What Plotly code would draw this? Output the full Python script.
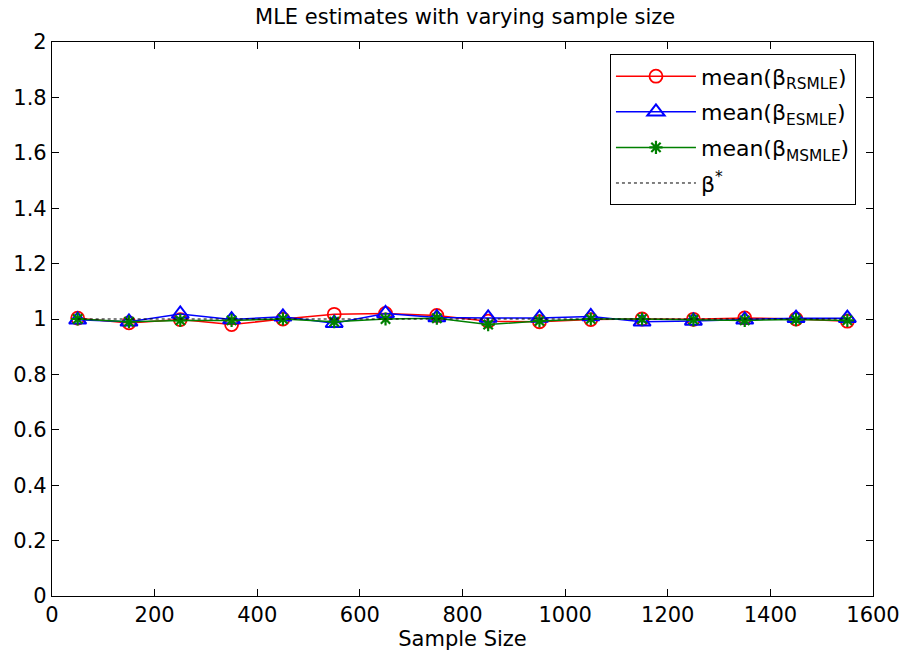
import plotly.graph_objects as go

sample_size = [50, 150, 250, 350, 450, 550, 650, 750, 850, 950, 1050, 1150, 1250, 1350, 1450, 1550]
beta_rsmle = [1.003, 0.986, 0.998, 0.980, 1.000, 1.017, 1.020, 1.013, 0.992, 0.990, 0.998, 1.000, 0.999, 1.004, 1.000, 0.992]
beta_esmle = [0.997, 0.990, 1.018, 0.998, 1.008, 0.985, 1.020, 1.005, 1.004, 1.004, 1.009, 0.990, 0.993, 0.997, 1.003, 1.003]
beta_msmle = [1.000, 0.990, 0.995, 0.995, 1.000, 0.990, 1.000, 1.003, 0.980, 0.993, 1.000, 1.000, 0.997, 0.995, 0.998, 0.995]
beta_true = [1.0] * len(sample_size)

font = "DejaVu Sans, sans-serif"

fig = go.Figure()
fig.add_trace(go.Scatter(
    x=sample_size, y=beta_rsmle, mode="lines+markers",
    name="mean(β<sub>RSMLE</sub>)", legendgroup="r",
    line=dict(color="#ff0000", width=1.5),
    marker=dict(symbol="circle-open", size=13, color="#ff0000", line=dict(width=1.8)),
))
fig.add_trace(go.Scatter(
    x=sample_size, y=beta_esmle, mode="lines+markers",
    name="mean(β<sub>ESMLE</sub>)", legendgroup="e",
    line=dict(color="#0000ff", width=1.5),
    marker=dict(symbol="triangle-up-open", size=15, color="#0000ff", line=dict(width=2)),
))
fig.add_trace(go.Scatter(
    x=sample_size, y=beta_msmle, mode="lines+markers",
    name="mean(β<sub>MSMLE</sub>)", legendgroup="m",
    line=dict(color="#008000", width=1.5),
    marker=dict(symbol="asterisk-open", size=11, color="#008000", line=dict(width=2.2, color="#008000")),
))
fig.add_trace(go.Scatter(
    x=sample_size, y=beta_true, mode="lines",
    name="β<sup>*</sup>", legendgroup="t",
    line=dict(color="black", width=1, dash="dot"),
))

axis_style = dict(
    showline=True, linecolor="black", linewidth=1.2, mirror="ticks",
    ticks="inside", ticklen=7, tickcolor="black", showgrid=False, zeroline=False,
    automargin=False,
    tickfont=dict(family=font, size=21, color="black"),
)

fig.update_layout(
    width=905, height=654,
    margin=dict(l=52, r=32, t=42, b=58),
    paper_bgcolor="white", plot_bgcolor="white",
    title=dict(text="MLE estimates with varying sample size", xref="container", x=0.514, xanchor="center",
               yref="container", y=1 - 17 / 654, yanchor="middle",
               font=dict(family=font, size=21, color="black")),
    xaxis=dict(range=[0, 1600], tickvals=list(range(0, 1601, 200)),
               title=dict(text="Sample Size", font=dict(family=font, size=21, color="black"), standoff=0),
               **axis_style),
    yaxis=dict(range=[0, 2], tickvals=[0, 0.2, 0.4, 0.6, 0.8, 1, 1.2, 1.4, 1.6, 1.8, 2],
               ticktext=["0", "0.2", "0.4", "0.6", "0.8", "1", "1.2", "1.4", "1.6", "1.8", "2"],
               **axis_style),
    legend=dict(x=0.979, xanchor="right", y=0.978, yanchor="top",
                bgcolor="white", bordercolor="black", borderwidth=1.2,
                font=dict(family=font, size=22, color="black"),
                itemwidth=80, traceorder="grouped", tracegroupgap=4),
    showlegend=True,
)

fig.write_html("out.html", config={"displayModeBar": False},
               post_script="document.body.style.margin='0';")
